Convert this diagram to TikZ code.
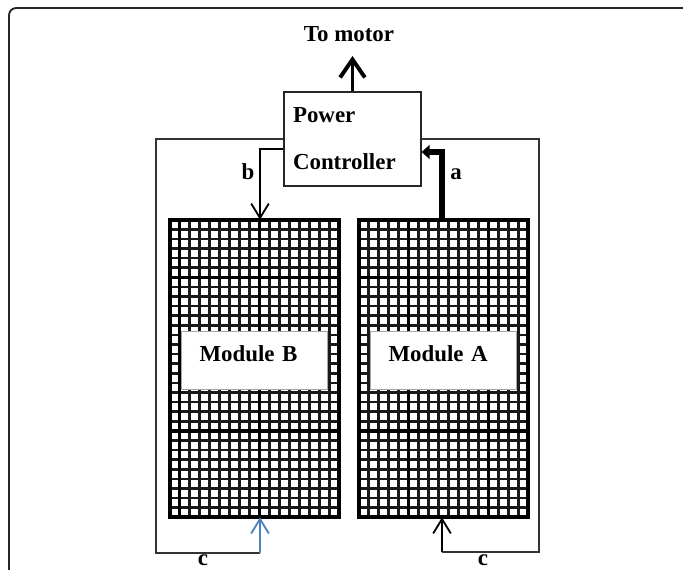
\documentclass[tikz,border=0pt]{standalone}
\usepackage{fontspec}
\setmainfont{Liberation Serif}
\usepackage{xcolor}
\usetikzlibrary{arrows.meta, calc}
\definecolor{cblue}{RGB}{79,129,189}

\begin{document}
\begin{tikzpicture}[>=Stealth, font=\fontsize{16.3}{19}\selectfont\bfseries,
  module/.style={minimum width=4.225cm, minimum height=7.425cm, inner sep=0pt},
  modframe/.style={black, line width=2.6pt},
  cellline/.style={black!90, line width=1.9pt},
  sepline/.style={black, line width=2.4pt},
  modlabel/.style={draw=gray!70, fill=white, line width=0.6pt, inner xsep=0.45cm,
    inner ysep=0.37cm, text width=2.75cm, align=left, text height=0.4cm, text depth=0.33cm},
  ctrlbox/.style={draw=black!85, fill=white, line width=0.8pt, minimum width=3.425cm,
    minimum height=2.35cm, inner xsep=0.225cm, text width=2.975cm, align=left,
    font=\fontsize{16.3}{33.3}\selectfont\bfseries},
  loopline/.style={black!80, line width=0.8pt},
  thinarrow/.style={line width=1pt, -{Straight Barb[length=0.36cm,width=0.44cm,line width=1.3pt]}},
  thickarrow/.style={line width=4.2pt, -{Triangle[length=0.2cm,width=0.34cm]}},
  motorarrow/.style={line width=2.8pt, -{Straight Barb[length=0.45cm,width=0.62cm]}}]

\useasboundingbox (0,0) rectangle (17.075,14.25);

%-- page frame
\draw[black!85, line width=1.3pt, rounded corners=0.18cm]
  (0.225,0) -- (0.225,14.05) -- (17.075,14.05);

\coordinate (loopBL) at (3.9,0.425);
\coordinate (cB)     at (6.5,0.425);
\coordinate (loopBR) at (13.475,0.45);
\coordinate (cA)     at (11.05,0.45);
\coordinate (bB)     at (6.5,10.525);
\coordinate (aA)     at (11.05,10.45);
\coordinate (motortip) at (8.8125,12.85);

\node[module] (modB) at (6.3625,5.0375) {};
\node[module] (modA) at (11.0875,5.0375) {};

%-- feedback loops
\draw[loopline] (8.8125,10.775) -| (loopBL) -- (cB);
\draw[loopline] (8.8125,10.775) -| (loopBR) -- (cA);

\node[ctrlbox] (ctrl) at (8.8125,10.775) {Power\\Controller};

%-- solar cell grids
\foreach \m/\p/\q in {modB/1/9, modA/5/13}{
  \fill[white] (\m.south west) rectangle (\m.north east);
  \foreach \i in {1,...,16}
    \draw[cellline] ($(\m.south west)!\i/17!(\m.south east)$)
      -- ($(\m.north west)!\i/17!(\m.north east)$);
  \foreach \j in {1,...,30}
    \draw[cellline] ($(\m.south west)!\j/31!(\m.north west)$)
      -- ($(\m.south east)!\j/31!(\m.north east)$);
  \foreach \i in {\p,\q}
    \draw[sepline] ($(\m.south west)!\i/17!(\m.south east)$)
      -- ($(\m.north west)!\i/17!(\m.north east)$);
  \foreach \j in {9,25}
    \draw[sepline] ($(\m.south west)!\j/31!(\m.north west)$)
      -- ($(\m.south east)!\j/31!(\m.north east)$);
  \draw[modframe] (\m.south west) rectangle (\m.north east);
}

\node[modlabel] (labB) at ([yshift=0.2cm]modB.center) {Module B};
\node[modlabel] (labA) at ([yshift=0.2cm]modA.center) {Module A};

%-- arrows
\draw[motorarrow] (ctrl.north) -- (motortip);
\draw[thinarrow] (ctrl.west |- bB) -- (bB) -- (bB |- modB.north);
\draw[thickarrow] (aA |- modA.north) -- (aA) -- (ctrl.east |- aA);
\draw[thinarrow, cblue] (cB) -- (cB |- modB.south);
\draw[thinarrow] (cA) -- (cA |- modA.south);

\node[anchor=base] (motor) at (8.725,13.2) {To motor};
\node[anchor=base] (lblb) at (6.2,9.75) {b};
\node[anchor=base] (lbla) at (11.4,9.75) {a};
\node[anchor=base] (lblcB) at (5.075,0.1) {c};
\node[anchor=base] (lblcA) at (12.075,0.1) {c};

\end{tikzpicture}
\end{document}
